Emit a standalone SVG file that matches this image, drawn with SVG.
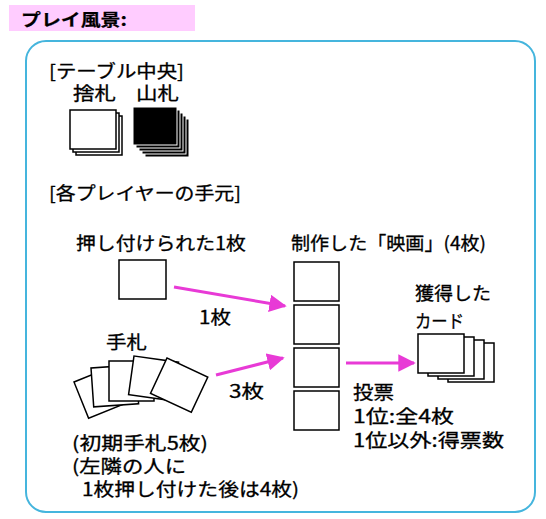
<svg xmlns="http://www.w3.org/2000/svg" width="546" height="519" viewBox="0 0 546 519">
<defs>
<style>
text{font-family:"Noto Sans CJK JP","Noto Sans",sans-serif;font-size:18px;fill:#000;stroke:#000;stroke-width:0.3}
.t{font-weight:bold;font-size:17px;stroke-width:0.2}
.card{fill:#fff;stroke:#000;stroke-width:1.5}
.blk{fill:#000;stroke:#fff;stroke-width:1}
.arr{stroke:#e83ad6;stroke-width:3;fill:none;marker-end:url(#ah)}
</style>
<marker id="ah" viewBox="0 0 10 10" refX="9" refY="5" markerWidth="5.8" markerHeight="5.8" orient="auto">
<path d="M0,0 L10,5 L0,10 z" fill="#e83ad6"/>
</marker>
</defs>
<rect width="546" height="519" fill="#fff"/>
<g id="title">
<rect x="9" y="5" width="186" height="26" fill="#ffccff"/>
<text class="t" x="21" y="26" textLength="106" lengthAdjust="spacingAndGlyphs">プレイ風景:</text>
</g>
<g id="frame">
<rect x="26" y="41" width="509" height="471" rx="20" fill="none" stroke="#45b5dd" stroke-width="2"/>
</g>
<g id="table-center">
<text x="49" y="78" textLength="135" lengthAdjust="spacingAndGlyphs">[テーブル中央]</text>
</g>
<g id="discard">
<text x="73" y="100" textLength="43" lengthAdjust="spacingAndGlyphs">捨札</text>
<rect class="card" x="76" y="116" width="46" height="39"/>
<rect class="card" x="73" y="113" width="46" height="39"/>
<rect class="card" x="70" y="110" width="46" height="39"/>
</g>
<g id="deck">
<text x="136" y="100" textLength="43" lengthAdjust="spacingAndGlyphs">山札</text>
<rect class="blk" x="145" y="119" width="44" height="38"/>
<rect class="blk" x="142" y="116" width="44" height="38"/>
<rect class="blk" x="139" y="113" width="44" height="38"/>
<rect class="blk" x="136" y="110" width="44" height="38"/>
<rect class="blk" x="133" y="107" width="44" height="38"/>
</g>
<g id="player-area">
<text x="49" y="200" textLength="192" lengthAdjust="spacingAndGlyphs">[各プレイヤーの手元]</text>
</g>
<g id="pushed-card">
<text x="76" y="250" textLength="170" lengthAdjust="spacingAndGlyphs">押し付けられた1枚</text>
<rect class="card" x="119" y="260" width="47" height="39"/>
</g>
<g id="hand">
<text x="106" y="349" textLength="41" lengthAdjust="spacingAndGlyphs">手札</text>
<rect class="card" x="0" y="0" width="45" height="39" transform="translate(74 382) rotate(-22)"/>
<rect class="card" x="0" y="0" width="45" height="39" transform="translate(91 368) rotate(-4)"/>
<rect class="card" x="0" y="0" width="45" height="40" transform="translate(109 361)"/>
<rect class="card" x="0" y="0" width="45" height="39" transform="translate(134 356) rotate(8)"/>
<rect class="card" x="0" y="0" width="45" height="39" transform="translate(167 358) rotate(25)"/>
<text x="72" y="450" textLength="136" lengthAdjust="spacingAndGlyphs">(初期手札5枚)</text>
<text x="72" y="473" textLength="114" lengthAdjust="spacingAndGlyphs">(左隣の人に</text>
<text x="82" y="496" textLength="217" lengthAdjust="spacingAndGlyphs">1枚押し付けた後は4枚)</text>
</g>
<g id="movie">
<text x="291" y="250" textLength="195" lengthAdjust="spacingAndGlyphs">制作した「映画」(4枚)</text>
<rect class="card" x="294" y="262" width="45" height="39"/>
<rect class="card" x="294" y="305" width="45" height="39"/>
<rect class="card" x="294" y="348" width="45" height="39"/>
<rect class="card" x="294" y="391" width="45" height="39"/>
</g>
<g id="won">
<text x="415" y="300" textLength="76" lengthAdjust="spacingAndGlyphs">獲得した</text>
<text x="415" y="328" textLength="49" lengthAdjust="spacingAndGlyphs">カード</text>
<rect class="card" x="448" y="343" width="46" height="39"/>
<rect class="card" x="438" y="340" width="46" height="39"/>
<rect class="card" x="428" y="337" width="46" height="39"/>
<rect class="card" x="418" y="334" width="46" height="39"/>
</g>
<g id="vote">
<text x="353" y="399" textLength="41" lengthAdjust="spacingAndGlyphs">投票</text>
<text x="353" y="423" textLength="101" lengthAdjust="spacingAndGlyphs">1位:全4枚</text>
<text x="353" y="447" textLength="151" lengthAdjust="spacingAndGlyphs">1位以外:得票数</text>
</g>
<g id="connectors">
<line class="arr" x1="174" y1="287" x2="285" y2="306"/>
<text x="199" y="324" textLength="32" lengthAdjust="spacingAndGlyphs">1枚</text>
<line class="arr" x1="216" y1="375" x2="283" y2="358"/>
<text x="229" y="398" textLength="35" lengthAdjust="spacingAndGlyphs">3枚</text>
<line class="arr" x1="346" y1="363" x2="414" y2="363"/>
</g>
</svg>
